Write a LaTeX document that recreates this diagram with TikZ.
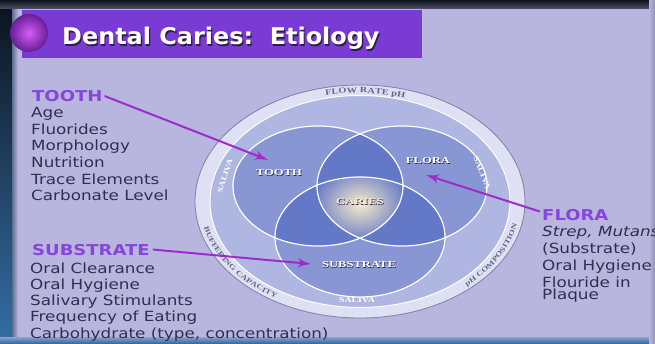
\documentclass[tikz,border=0pt]{standalone}
\usepackage{fontspec}
\setmainfont{DejaVu Sans}
\newfontfamily\listfont[FakeStretch=1.2]{DejaVu Sans}
\newfontfamily\titlefont[FakeStretch=1.04]{DejaVu Sans}
\newfontfamily\vennfont[FakeStretch=1.4]{Liberation Serif}
\newfontfamily\ringfont[FakeStretch=1.3]{Liberation Serif}
\usetikzlibrary{arrows}
\usetikzlibrary{decorations.markings}
\usetikzlibrary{decorations.text}
\usetikzlibrary{positioning}

\definecolor{slidebg}{RGB}{184,181,222}
\definecolor{framedark}{RGB}{12,18,28}
\definecolor{frameteal}{RGB}{28,62,92}
\definecolor{frameblue}{RGB}{52,110,165}
\definecolor{barpurple}{RGB}{122,58,212}
\definecolor{ballhi}{RGB}{214,92,248}
\definecolor{balllo}{RGB}{104,30,150}
\definecolor{titleshade}{RGB}{45,30,70}
\definecolor{headpurple}{RGB}{136,68,220}
\definecolor{itemtext}{RGB}{48,48,78}
\definecolor{arrowpurple}{RGB}{158,44,204}
\definecolor{ringwhite}{RGB}{222,224,244}
\definecolor{ringedge}{RGB}{125,128,165}
\definecolor{ringtext}{RGB}{100,104,135}
\definecolor{annulus}{RGB}{176,182,226}
\definecolor{vennblue}{RGB}{136,150,212}
\definecolor{venndark}{RGB}{100,120,200}
\definecolor{glow}{RGB}{248,236,200}
\definecolor{labelshade}{RGB}{40,42,78}

% text with a dark drop shadow behind it
\newcommand{\embossed}[3]{\rlap{\kern#1\raisebox{-#1}{\color{#2}#3}}#3}

\tikzset{pointer/.style = {draw=arrowpurple, line width=2pt, shorten >=4pt,
                           decoration={markings,
                                       mark=at position 1 with {\arrow[scale=1.5,arrowpurple]{latex'}}},
                           postaction={decorate}},
         vennsize/.style = {x radius=85pt, y radius=60pt},
         vennedge/.style = {draw=white, line width=1.2pt},
         head/.style = {anchor=base west, inner sep=0pt, text=headpurple,
                        font=\listfont\bfseries\fontsize{15}{17}\selectfont},
         item/.style = {anchor=base west, inner sep=0pt, text=itemtext,
                        font=\listfont\fontsize{14}{16}\selectfont},
         vennlabel/.style = {inner sep=0pt, text=white,
                             font=\vennfont\bfseries\fontsize{9}{10}\selectfont},
         saliva/.style = {inner sep=0pt, text=white,
                          font=\ringfont\bfseries\fontsize{7.5}{8}\selectfont}}

\begin{document}
\begin{tikzpicture}[x=1pt, y=1pt]
  \useasboundingbox (0,0) rectangle (655,343);
  \clip (0,0) rectangle (655,343);

  % slide and the dark screen edge round it
  \fill[slidebg] (0,0) rectangle (655,343);
  \shade[top color=framedark, middle color=frameteal, bottom color=frameblue] (0,0) rectangle (12,343);
  \shade[left color=frameteal!60!slidebg, right color=slidebg] (12,0) rectangle (18,343);
  \shade[top color=framedark, bottom color=framedark!60!slidebg] (0,334) rectangle (655,343);
  \shade[top color=frameblue!30!slidebg, bottom color=frameblue] (0,0) rectangle (655,6);
  \shade[left color=slidebg, right color=slidebg!80!black] (649,0) rectangle (655,343);

  % title bar
  \fill[barpurple] (22,285) rectangle (422,333);
  \shade[inner color=ballhi, outer color=balllo] (29,310) circle (19pt);
  \node[anchor=base west, inner sep=0pt, text=white,
        font=\titlefont\bfseries\fontsize{23}{28}\selectfont]
        (title) at (62,298) {\embossed{1.2pt}{titleshade}{Dental Caries:~\ Etiology}};

  % saliva ring
  \coordinate (ringc) at (360,141.5);
  \filldraw[fill=ringwhite, draw=ringedge, line width=0.8pt] (ringc) ellipse[x radius=165pt, y radius=116.5pt];
  \filldraw[fill=annulus, draw=white, line width=1pt] (ringc) ellipse[x radius=150pt, y radius=106pt];

  % three circles
  \coordinate (toothc) at (318,157);
  \coordinate (florac) at (402,157);
  \coordinate (substc) at (360,106);
  \fill[vennblue] (toothc) ellipse[vennsize] (florac) ellipse[vennsize] (substc) ellipse[vennsize];
  \begin{scope}
    \clip (toothc) ellipse[vennsize];
    \fill[venndark] (florac) ellipse[vennsize] (substc) ellipse[vennsize];
  \end{scope}
  \begin{scope}
    \clip (florac) ellipse[vennsize];
    \fill[venndark] (substc) ellipse[vennsize];
  \end{scope}
  \begin{scope}
    \clip (toothc) ellipse[vennsize];
    \clip (florac) ellipse[vennsize];
    \clip (substc) ellipse[vennsize];
    \shade[inner color=glow, outer color=venndark] (360,139) ellipse[x radius=48pt, y radius=38pt];
  \end{scope}
  \draw[vennedge] (toothc) ellipse[vennsize] (florac) ellipse[vennsize] (substc) ellipse[vennsize];

  % words round the ring
  \begin{scope}[shift={(ringc)}]
    \path[decorate, decoration={text along path, text align=center,
          text={|\ringfont\bfseries\fontsize{8}{9}\selectfont\color{ringtext}|FLOW RATE pH}}]
      (108:155pt and 108.5pt) arc[start angle=108, end angle=68, x radius=155pt, y radius=108.5pt];
    \path[decorate, decoration={text along path, text align=center,
          text={|\ringfont\bfseries\fontsize{7}{8}\selectfont\color{ringtext}|BUFFERING CAPACITY}}]
      (186:160.5pt and 113.5pt) arc[start angle=186, end angle=244, x radius=160.5pt, y radius=113.5pt];
    \path[decorate, decoration={text along path, text align=center,
          text={|\ringfont\bfseries\fontsize{7}{8}\selectfont\color{ringtext}|pH COMPOSITION}}]
      (304:160.5pt and 113.5pt) arc[start angle=304, end angle=358, x radius=160.5pt, y radius=113.5pt];
  \end{scope}
  \node[saliva, rotate=72] (salivaw) at (225,167) {SALIVA};
  \node[saliva, rotate=-69] (salivae) at (482,170) {SALIVA};
  \node[saliva] (salivas) at (357,43) {SALIVA};

  % labels inside the circles
  \node[vennlabel] (toothlbl) at (279,170) {\embossed{0.7pt}{labelshade}{TOOTH}};
  \node[vennlabel] (floralbl) at (428,182) {\embossed{0.7pt}{labelshade}{FLORA}};
  \node[vennlabel] (substlbl) at (359,78) {\embossed{0.7pt}{labelshade}{SUBSTRATE}};
  \node[vennlabel, text=glow] (carieslbl) at (360,141) {\embossed{0.7pt}{labelshade}{CARIES}};

  % tooth factors
  \node[head] (toothhead) at (32,241.5) {TOOTH};
  \foreach \entry [count=\i] in {Age, Fluorides, Morphology, Nutrition, Trace Elements, Carbonate Level}
    \node[item] (toothitem\i) at (31,241.5-16.5*\i) {\entry};

  % substrate factors
  \node[head] (substhead) at (32,88) {SUBSTRATE};
  \foreach \entry [count=\i] in {Oral Clearance, Oral Hygiene, Salivary Stimulants,
                                 Frequency of Eating, {Carbohydrate (type, concentration)}}
    \node[item] (substitem\i) at (30,86.3-16.3*\i) {\entry};

  % flora factors
  \node[head] (florahead) at (542,123) {FLORA};
  \node[item, font=\listfont\itshape\fontsize{14}{16}\selectfont] (floraitem1) at (542,107) {Strep, Mutans};
  \node[item] (floraitem2) at (542,90) {(Substrate)};
  \node[item] (floraitem3) at (542,73) {Oral Hygiene};
  \node[item] (floraitem4) at (542,56) {Flouride in};
  \node[item] (floraitem5) at (542,44) {Plaque};

  % pointers into the circles
  \coordinate (toothtip) at (268,183);
  \coordinate (substtip) at (311,79);
  \coordinate (floratip) at (426,168);
  \draw[pointer] ([xshift=2pt]toothhead.east) -- (toothtip);
  \draw[pointer] ([xshift=3pt]substhead.east) -- (substtip);
  \draw[pointer] ([xshift=-2pt,yshift=3pt]florahead.west) -- (floratip);
\end{tikzpicture}
\end{document}
